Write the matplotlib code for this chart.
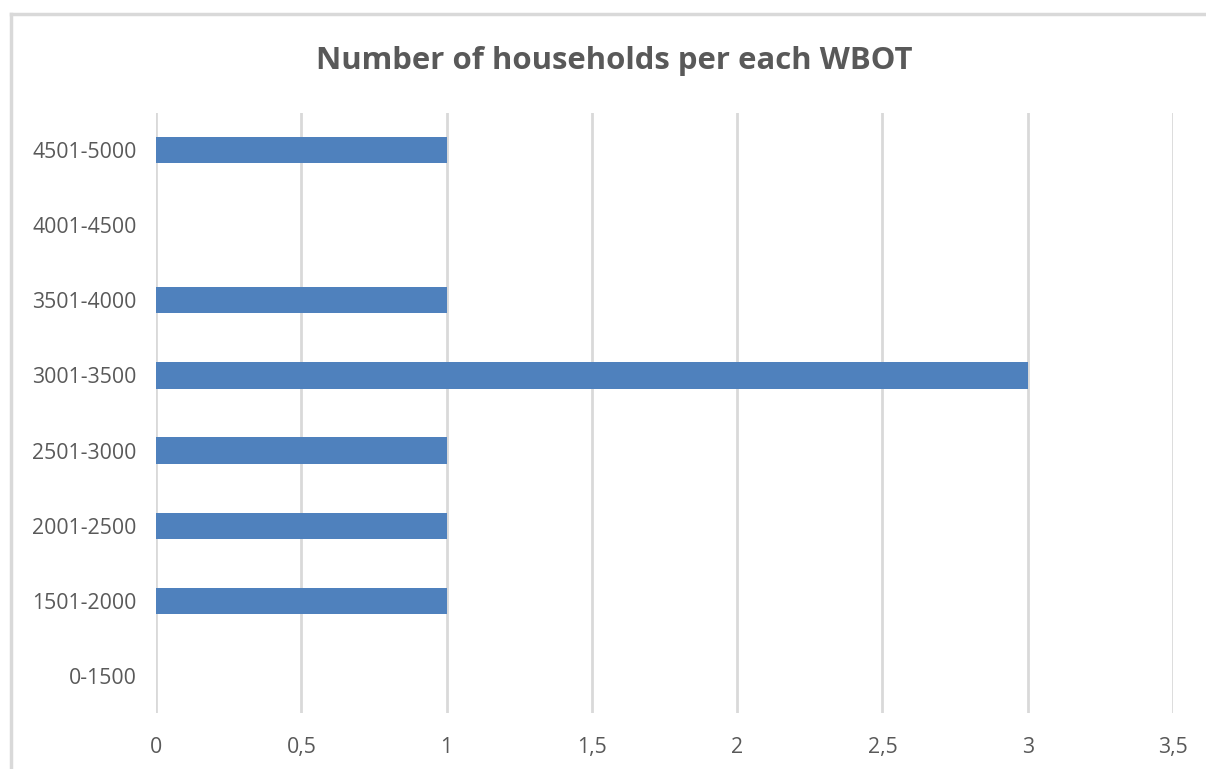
import numpy as np
import matplotlib
matplotlib.use('Agg')
import matplotlib.pyplot as plt
from matplotlib.lines import Line2D

# data
categories = ['0-1500', '1501-2000', '2001-2500', '2501-3000',
              '3001-3500', '3501-4000', '4001-4500', '4501-5000']
households = [0, 1, 1, 1, 3, 1, 0, 1]
x_ticks = [0, 0.5, 1, 1.5, 2, 2.5, 3, 3.5]
x_tick_labels = ['0', '0,5', '1', '1,5', '2', '2,5', '3', '3,5']

grey_text = '#595959'
grid_col = '#d9d9d9'
bar_col = '#4f81bd'

plt.rcParams['font.family'] = ['Open Sans', 'DejaVu Sans']

fig = plt.figure(figsize=(12.06, 7.69), dpi=100)
ax = fig.add_axes([0.1294, 0.0722, 0.8432, 0.7815])

y = np.arange(len(categories))
ax.barh(y, households, height=0.35, color=bar_col, zorder=3)

ax.set_xlim(0, 3.5)
ax.set_ylim(-0.5, len(categories) - 0.5)
ax.set_yticks(y)
ax.set_yticklabels(categories)
ax.set_xticks(x_ticks)
ax.set_xticklabels(x_tick_labels)
ax.tick_params(length=0, labelsize=15.3, colors=grey_text)
ax.tick_params(axis='x', pad=17)
ax.tick_params(axis='y', pad=14)

ax.xaxis.grid(True, color=grid_col, linewidth=2, zorder=0)
ax.yaxis.grid(False)
for s in ['top', 'right', 'bottom', 'left']:
    ax.spines[s].set_visible(False)

fig.text(0.509, 0.921, 'Number of households per each WBOT', ha='center', va='center',
         fontsize=22.4, fontweight='bold', color=grey_text)

# chart area border (top and left edges visible)
fig.add_artist(Line2D([11 / 1206, 1], [1 - 14 / 769, 1 - 14 / 769],
                      transform=fig.transFigure, color=grid_col, linewidth=2.5))
fig.add_artist(Line2D([11 / 1206, 11 / 1206], [0, 1 - 14 / 769],
                      transform=fig.transFigure, color=grid_col, linewidth=2.5))

fig.savefig('out.png', dpi=100)
